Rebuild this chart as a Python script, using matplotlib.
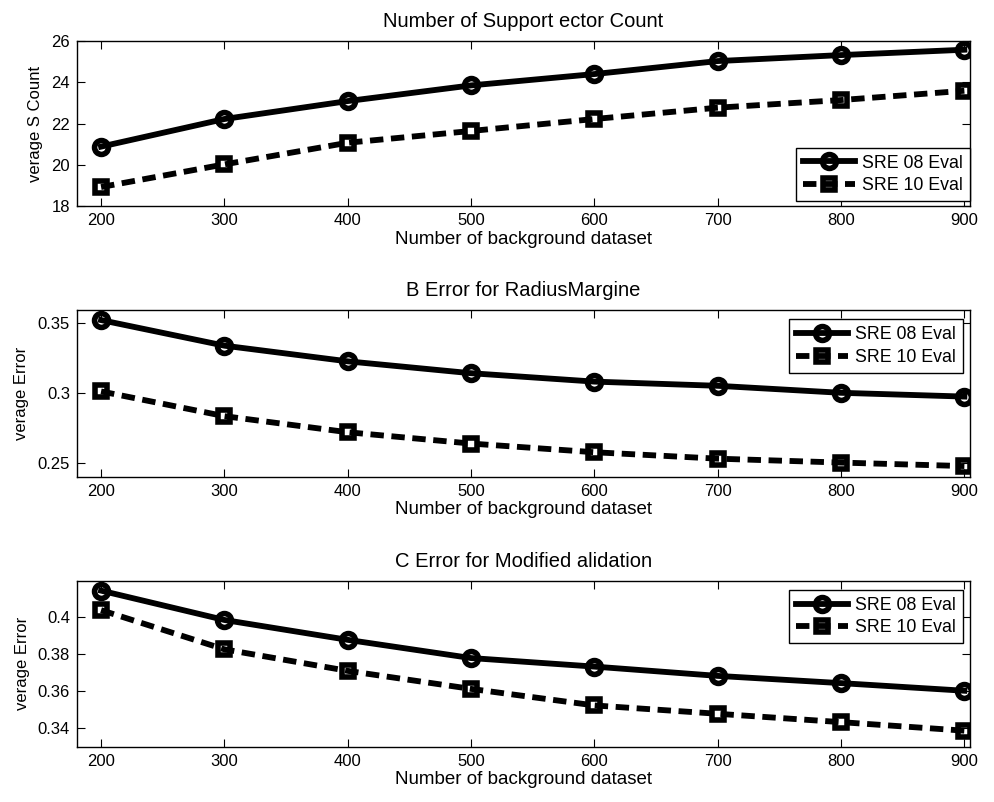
import matplotlib
matplotlib.use('Agg')
import matplotlib.pyplot as plt

plt.rcParams['font.family'] = ['Liberation Sans', 'DejaVu Sans']

x = [200, 300, 400, 500, 600, 700, 800, 900]

# Support vector count
sv_08 = [20.88, 22.22, 23.09, 23.85, 24.40, 25.03, 25.32, 25.58]
sv_10 = [18.92, 20.02, 21.07, 21.64, 22.22, 22.77, 23.14, 23.59]

# radius margin error
rm_08 = [0.352, 0.3337, 0.3225, 0.314, 0.308, 0.305, 0.300, 0.2973]
rm_10 = [0.301, 0.2833, 0.2718, 0.2637, 0.2575, 0.2529, 0.2501, 0.2476]

# modified validation error
mv_08 = [0.414, 0.3982, 0.3875, 0.3777, 0.3731, 0.3681, 0.3642, 0.3601]
mv_10 = [0.4035, 0.3824, 0.3708, 0.3611, 0.3522, 0.3477, 0.3432, 0.3386]

titles = ['Number of Support ector Count', 'B Error for RadiusMargine',
          'C Error for Modified alidation']
ylabels = ['verage S Count', 'verage Error', 'verage Error']
xlabel = 'Number of background dataset'
legend_labels = ['SRE 08 Eval', 'SRE 10 Eval']

yticks = [[18, 20, 22, 24, 26], [0.25, 0.3, 0.35], [0.34, 0.36, 0.38, 0.4]]
ylims = [(18, 26), (0.24, 0.359), (0.33, 0.4192)]

data = [(sv_08, sv_10), (rm_08, rm_10), (mv_08, mv_10)]
# axes boxes in figure fraction: left, bottom, width, height
boxes = [(0.0775, 0.7431, 0.8984, 0.2057),
         (0.0775, 0.4056, 0.8984, 0.2075),
         (0.0775, 0.0690, 0.8984, 0.2066)]

fig = plt.figure(figsize=(9.94, 8.02), dpi=100)

for i in range(3):
    ax = fig.add_axes(boxes[i])
    s08, s10 = data[i]
    ax.plot(x, s08, color='black', lw=4.2, marker='o', ms=10, mew=4,
            mfc='none', mec='black', label=legend_labels[0])
    ax.plot(x, s10, color='black', lw=4.2, ls=(0, (2.3, 1.3)), marker='s', ms=8,
            mew=4, mfc='none', mec='black', label=legend_labels[1])
    ax.set_xlim(180.5, 904.6)
    ax.set_ylim(*ylims[i])
    ax.set_xticks(x)
    ax.set_yticks(yticks[i])
    ax.set_yticklabels(['%g' % v for v in yticks[i]])
    ax.tick_params(direction='in', length=6, width=0.8, top=True, right=True,
                   labelsize=12, pad=5)
    for sp in ax.spines.values():
        sp.set_linewidth(1.0)
    ax.set_title(titles[i], fontsize=14.5, pad=10)
    ax.set_xlabel(xlabel, fontsize=13.5, labelpad=2)
    ax.set_ylabel(ylabels[i], fontsize=12, labelpad=6)
    if i == 0:
        anchor = (1.0, 0.03)
        loc = 'lower right'
    else:
        anchor = (0.992, 0.946)
        loc = 'upper right'
    leg = ax.legend(loc=loc, bbox_to_anchor=anchor,
                    borderaxespad=0, fontsize=12.8, handlelength=2.9,
                    fancybox=False, framealpha=1, edgecolor='black',
                    borderpad=0.4, labelspacing=0.3, handletextpad=0.4)
    leg.get_frame().set_linewidth(1.0)

fig.savefig('out.png', dpi=100)
